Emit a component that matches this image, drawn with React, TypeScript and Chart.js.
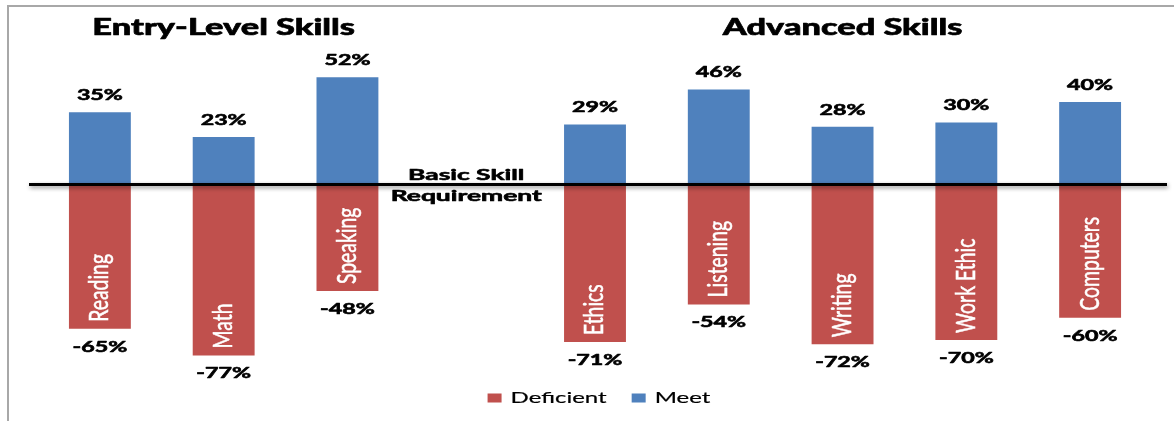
import React, { useEffect, useRef } from 'react';
import { Chart, registerables } from 'chart.js';

Chart.register(...registerables);

const categories = ['Reading', 'Math', 'Speaking', '', 'Ethics', 'Listening', 'Writing', 'Work Ethic', 'Computers'];
const meetValues: (number | null)[] = [35, 23, 52, null, 29, 46, 28, 30, 40];
const deficientValues: (number | null)[] = [-65, -77, -48, null, -71, -54, -72, -70, -60];
const seriesNames = ['Deficient', 'Meet'];
const seriesColors = ['#C0504D', '#4F81BD'];
const groupTitles = ['Entry-Level Skills', 'Advanced Skills'];
const groupRanges = [[0, 2], [4, 8]];
const baselineLines = ['Basic Skill', 'Requirement'];

const FONT = 'Lato, "Open Sans", sans-serif';

function drawText(
  ctx: CanvasRenderingContext2D,
  text: string,
  x: number,
  y: number,
  font: string,
  sx: number,
  color: string,
  align: CanvasTextAlign = 'center',
  heavy = 0
) {
  ctx.save();
  ctx.font = font;
  ctx.fillStyle = color;
  ctx.textBaseline = 'middle';
  ctx.textAlign = align;
  ctx.translate(x, y);
  ctx.scale(sx, 1);
  ctx.fillText(text, 0, 0);
  if (heavy > 0) {
    ctx.strokeStyle = color;
    ctx.lineWidth = heavy;
    ctx.lineJoin = 'round';
    ctx.strokeText(text, 0, 0);
  }
  ctx.restore();
}

const decorPlugin = {
  id: 'decor',
  beforeDraw(chart: any) {
    const ctx: CanvasRenderingContext2D = chart.ctx;
    ctx.save();
    ctx.fillStyle = '#ffffff';
    ctx.fillRect(0, 0, chart.width, chart.height);
    ctx.fillStyle = '#a8a8a8';
    ctx.fillRect(7, 5, chart.width - 7, 2);
    ctx.fillRect(7, 5, 2, chart.height - 5);
    ctx.restore();
  },
  afterDatasetsDraw(chart: any) {
    const ctx: CanvasRenderingContext2D = chart.ctx;
    const x = chart.scales.x;
    const y0 = chart.scales.yMeet.getPixelForValue(0);

    // zero line with shadow
    ctx.save();
    ctx.shadowColor = 'rgba(0,0,0,0.45)';
    ctx.shadowBlur = 4;
    ctx.shadowOffsetY = 2;
    ctx.shadowOffsetX = 1;
    ctx.fillStyle = '#000000';
    ctx.fillRect(29, y0 - 1.5, chart.width - 7 - 29, 3);
    ctx.restore();

    const defMeta = chart.getDatasetMeta(0);
    const meetMeta = chart.getDatasetMeta(1);

    // meet value labels
    meetValues.forEach((v, i) => {
      if (v == null) return;
      const el = meetMeta.data[i];
      drawText(ctx, `${v}%`, el.x, el.y - 17, `bold 15px ${FONT}`, 1.55, '#000', 'center', 0.6);
    });
    // deficient value labels & category labels
    deficientValues.forEach((v, i) => {
      if (v == null) return;
      const el = defMeta.data[i];
      drawText(ctx, `${v}%`, el.x, el.y + 18, `bold 15px ${FONT}`, 1.55, '#000', 'center', 0.6);
      ctx.save();
      ctx.translate(el.x, el.y - 7);
      ctx.rotate(-Math.PI / 2);
      ctx.scale(0.97, 1.3);
      ctx.font = `20px ${FONT}`;
      ctx.fillStyle = '#ffffff';
      ctx.strokeStyle = '#ffffff';
      ctx.lineWidth = 0.4;
      ctx.textAlign = 'left';
      ctx.textBaseline = 'middle';
      ctx.fillText(categories[i], 0, 0);
      ctx.strokeText(categories[i], 0, 0);
      ctx.restore();
    });

    // group titles
    groupTitles.forEach((t, g) => {
      const [a, b] = groupRanges[g];
      const cx = (x.getPixelForValue(a) + x.getPixelForValue(b)) / 2;
      drawText(ctx, t, cx, 27.5, `900 22px ${FONT}`, 1.56, '#000', 'center', 0.6);
    });

    // baseline label
    const bx = x.getPixelForValue(3) - 5;
    drawText(ctx, baselineLines[0], bx, y0 - 9.5, `bold 16px ${FONT}`, 1.65, '#000', 'center', 0.6);
    drawText(ctx, baselineLines[1], bx, y0 + 11, `bold 16px ${FONT}`, 1.65, '#000', 'center', 0.6);

    // legend
    const lsx = 1.5;
    const lfont = `16px ${FONT}`;
    ctx.save();
    ctx.font = lfont;
    const widths = seriesNames.map((n) => ctx.measureText(n).width * lsx);
    ctx.restore();
    const sq = 14;
    const gapSq = 9;
    const gapItem = 25;
    const total = widths.reduce((s, w) => s + sq + gapSq + w, 0) + gapItem * (seriesNames.length - 1);
    let lx = 599 - total / 2;
    const ly = 398;
    seriesNames.forEach((n, k) => {
      ctx.save();
      ctx.fillStyle = seriesColors[k];
      ctx.fillRect(lx, ly - 4.5, sq, 9);
      ctx.restore();
      drawText(ctx, n, lx + sq + gapSq, ly, lfont, lsx, '#000', 'left', 0.2);
      lx += sq + gapSq + widths[k] + gapItem;
    });
  },
};

export default function App() {
  const ref = useRef<HTMLCanvasElement | null>(null);
  useEffect(() => {
    if (!ref.current) return;
    const chart = new Chart(ref.current, {
      type: 'bar',
      data: {
        labels: categories,
        datasets: [
          {
            label: seriesNames[0],
            data: deficientValues,
            backgroundColor: seriesColors[0],
            yAxisID: 'yDef',
            grouped: false,
            barPercentage: 0.5,
            categoryPercentage: 1,
          } as any,
          {
            label: seriesNames[1],
            data: meetValues,
            backgroundColor: seriesColors[1],
            yAxisID: 'yMeet',
            grouped: false,
            barPercentage: 0.5,
            categoryPercentage: 1,
          } as any,
        ],
      },
      options: {
        responsive: false,
        animation: false,
        events: [],
        layout: { padding: { left: 38, right: 22, top: 0, bottom: 0 } },
        plugins: {
          legend: { display: false },
          tooltip: { enabled: false },
          title: { display: false },
        },
        scales: {
          x: { display: false, grid: { display: false } },
          yMeet: { display: false, min: -114.53, max: 89.35 },
          yDef: { display: false, min: -106.53, max: 83.11 },
        },
      },
      plugins: [decorPlugin],
    });
    return () => chart.destroy();
  }, []);
  return (
    <div style={{ position: 'fixed', left: 0, top: 0, width: 1174, height: 421, background: '#fff' }}>
      <canvas ref={ref} width={1174} height={421} style={{ display: 'block' }} />
    </div>
  );
}
